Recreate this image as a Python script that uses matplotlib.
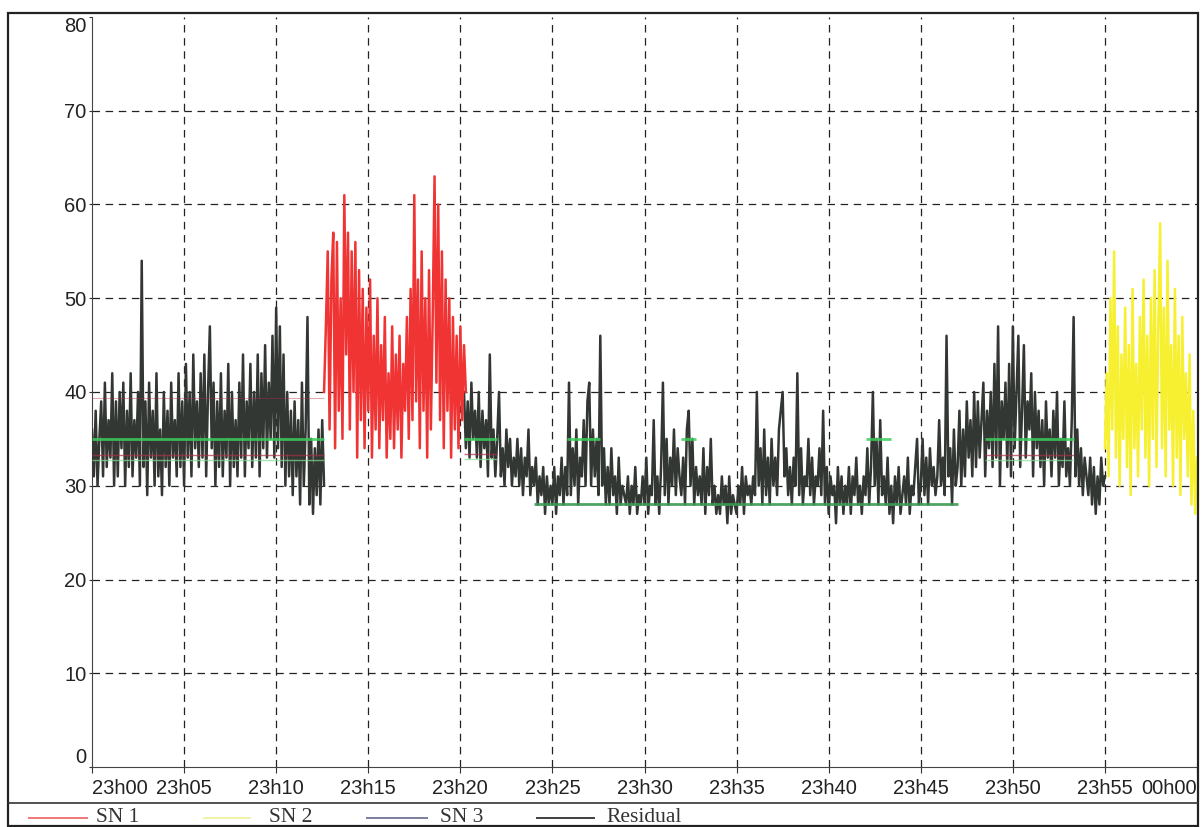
import numpy as np
import matplotlib.pyplot as plt
from matplotlib.lines import Line2D
from matplotlib.patches import Rectangle

# minutes after 23h00, sampled every 0.1 min
step = 0.1

# residual level, 23h00.0 -> 23h12.6
res_a_start = 0.0
res_a = [36, 31, 38, 30, 35, 39, 31, 41, 32, 37,
         33, 42, 30, 39, 31, 40, 34, 41, 30, 38,
         32, 42, 31, 37, 33, 40, 30, 54, 32, 39,
         29, 41, 33, 38, 30, 42, 31, 36, 29, 40,
         32, 38, 30, 41, 33, 37, 31, 42, 32, 39,
         30, 43, 33, 40, 31, 44, 34, 39, 32, 42,
         33, 44, 31, 40, 47, 34, 41, 30, 39, 32,
         42, 31, 38, 33, 43, 30, 40, 32, 37, 31,
         41, 33, 44, 31, 39, 34, 43, 32, 40, 33,
         44, 31, 42, 34, 45, 33, 41, 35, 46, 33,
         49, 34, 47, 32, 44, 30, 40, 31, 38, 29,
         39, 31, 37, 28, 41, 30, 36, 48, 28, 35,
         27, 34, 29, 36, 28, 37, 30]

# SN 1, 23h12.6 -> 23h20.3
sn1_start = 12.6
sn1 = [40, 47, 55, 36, 52, 57, 34, 56, 38, 50,
       35, 61, 44, 57, 36, 55, 40, 56, 33, 53,
       37, 51, 34, 49, 38, 52, 33, 46, 36, 50,
       34, 45, 37, 48, 33, 42, 35, 47, 34, 44,
       36, 46, 33, 43, 38, 48, 35, 51, 37, 61,
       39, 52, 34, 55, 38, 50, 33, 53, 36, 48,
       63, 41, 60, 37, 55, 34, 52, 38, 50, 33,
       48, 36, 46, 34, 47, 37, 45, 40]

# residual level, 23h20.2 -> 23h55.0
res_b_start = 20.2
res_b = [40, 34, 39, 33, 41, 35, 38, 33,
         40, 32, 38, 34, 37, 31, 44, 33, 36, 31,
         35, 40, 31, 34, 30, 36, 32, 35, 30, 33,
         31, 35, 30, 34, 29, 33, 31, 36, 29, 32,
         30, 33, 28, 31, 29, 32, 27, 31, 28, 30,
         28, 32, 27, 31, 29, 33, 28, 32, 29, 41,
         29, 34, 30, 36, 28, 33, 31, 37, 30, 39,
         41, 30, 36, 31, 35, 29, 46, 30, 34, 28,
         32, 28, 34, 29, 31, 27, 33, 28, 30, 29,
         28, 31, 27, 30, 28, 32, 27, 29, 28, 31,
         28, 33, 27, 30, 29, 37, 28, 31, 27, 32,
         41, 29, 35, 28, 33, 30, 36, 29, 34, 31,
         29, 33, 28, 36, 38, 30, 35, 28, 32, 29,
         31, 28, 34, 27, 32, 29, 35, 28, 30, 27,
         29, 27, 31, 28, 30, 26, 31, 27, 29, 28,
         27, 30, 28, 32, 27, 31, 29, 30, 28, 31,
         29, 40, 30, 34, 28, 36, 29, 33, 28, 35,
         30, 33, 29, 36, 38, 40, 31, 34, 29, 32,
         28, 33, 30, 42, 29, 34, 28, 31, 30, 35,
         29, 33, 28, 31, 30, 34, 29, 38, 28, 32,
         27, 31, 29, 30, 26, 32, 28, 31, 27, 30,
         28, 32, 27, 31, 29, 33, 28, 30, 27, 31,
         29, 34, 28, 32, 40, 30, 35, 28, 37, 29,
         31, 28, 33, 27, 30, 26, 31, 28, 32, 27,
         29, 31, 28, 33, 27, 30, 29, 32, 35, 28,
         30, 35, 29, 33, 28, 34, 30, 32, 29, 31,
         37, 30, 33, 29, 46, 31, 34, 28, 36, 30,
         32, 38, 30, 36, 31, 39, 33, 37, 31, 40,
         32, 39, 33, 37, 41, 31, 38, 34, 40, 32,
         43, 33, 47, 30, 39, 35, 41, 32, 43, 31,
         47, 34, 40, 46, 32, 38, 45, 33, 39, 36,
         42, 31, 40, 34, 38, 32, 37, 30, 39, 33,
         36, 31, 38, 33, 40, 30, 35, 32, 39, 31,
         34, 30, 37, 48, 31, 36, 30, 34, 29, 33,
         31, 29, 33, 28, 32, 27, 31, 28, 33, 30,
         31]

# SN 2, 23h55.0 -> 00h00.0
sn2_start = 55.0
sn2 = [34, 42, 31, 50, 36, 55, 33, 47, 30, 44,
       35, 49, 32, 45, 29, 51, 34, 43, 31, 48,
       36, 52, 33, 46, 30, 50, 35, 53, 32, 47,
       58, 34, 49, 31, 54, 36, 45, 30, 51, 33,
       46, 29, 48, 35, 42, 31, 44, 28, 38, 27,
       33]

# level markers (start min, end min, level)
green_levels = [(0.0, 12.6, 35), (20.2, 22.0, 35), (25.8, 27.6, 35),
                (32.0, 32.8, 35), (42.0, 43.4, 35), (48.5, 53.3, 35)]
base_levels = [(24.0, 47.0, 28)]
lower_bands = [(0.0, 12.6, 33.3), (20.2, 22.0, 33.4), (48.5, 53.3, 33.3)]
upper_bands = [(0.0, 12.6, 39.4)]

tick_min = list(range(0, 61, 5))
tick_txt = ['23h00', '23h05', '23h10', '23h15', '23h20', '23h25', '23h30',
            '23h35', '23h40', '23h45', '23h50', '23h55', '00h00']
legend_names = ['SN 1', 'SN 2', 'SN 3', 'Residual']
legend_cols = ['#f07878', '#f2f2a8', '#7c7c9c', '#404040']


def times(start, vals):
    return start + step * np.arange(len(vals))


W, H = 1202, 827
fig = plt.figure(figsize=(W / 100, H / 100), dpi=100)
ax = fig.add_axes([92 / W, 1 - 767 / H, (1197 - 92) / W, (767 - 17) / H])

lw_sig = 1.8
ax.plot(times(res_a_start, res_a), res_a, color='#333733', lw=lw_sig, zorder=3)
ax.plot(times(res_b_start, res_b), res_b, color='#333733', lw=lw_sig, zorder=3)
ax.plot(times(sn1_start, sn1), sn1, color='#f03434', lw=lw_sig, zorder=4)
ax.plot(times(sn2_start, sn2), sn2, color='#f6f030', lw=lw_sig, zorder=4)

for a, b, lev in green_levels:
    ax.hlines(lev, a, b, color='#3ccf5a', lw=2.0, alpha=0.85, zorder=5)
for a, b, lev in base_levels:
    ax.hlines(lev, a, b, color='#3c9a55', lw=2.0, alpha=0.9, zorder=3.5)
for a, b, lev in lower_bands:
    ax.hlines(lev, a, b, color='#a83048', lw=1.0, alpha=0.7, zorder=5)
    ax.hlines(lev - 0.6, a, b, color='#7fe08f', lw=1.0, alpha=0.7, zorder=5)
for a, b, lev in upper_bands:
    ax.hlines(lev, a, b, color='#a83048', lw=0.8, alpha=0.4, zorder=5)

ax.set_xlim(0, 60)
ax.set_ylim(0, 80)
ax.set_xticks(tick_min)
ax.set_xticklabels(tick_txt, fontsize=14.5, family='Liberation Sans', color='#222222')
ax.set_yticks(range(0, 81, 10))
ax.set_yticklabels([str(v) for v in range(0, 81, 10)], fontsize=14.5,
                   family='Liberation Sans', color='#222222')
xl = ax.get_xticklabels()
xl[0].set_ha('left')
xl[-1].set_ha('right')
yl = ax.get_yticklabels()
yl[0].set_va('bottom')
yl[-1].set_va('top')
ax.tick_params(axis='x', length=4, pad=5, color='#333333')
ax.tick_params(axis='y', length=2, pad=2, color='#333333')

ax.grid(True, color='#222222', linestyle=(0, (6, 4.5)), lw=0.9)
for g in (ax.xaxis.get_gridlines()[0], ax.xaxis.get_gridlines()[-1],
          ax.yaxis.get_gridlines()[0], ax.yaxis.get_gridlines()[-1]):
    g.set_visible(False)
ax.set_axisbelow(True)

for s in ('top', 'right'):
    ax.spines[s].set_visible(False)
ax.spines['left'].set_color('#444444')
ax.spines['bottom'].set_color('#444444')

# outer frame and legend strip
fig.add_artist(Rectangle((8 / W, 1 - 826 / H), (1198 - 8) / W, (826 - 13) / H,
                         transform=fig.transFigure, fill=False,
                         edgecolor='#222222', lw=1.6))
fig.add_artist(Line2D([8 / W, 1198 / W], [1 - 803 / H, 1 - 803 / H],
                      color='#333333', lw=1.2))

line_x = [(29, 87), (204, 250), (367, 427), (537, 594)]
text_x = [96, 269, 440, 606]
ly = 1 - 818 / H
for (a, b), tx, name, col in zip(line_x, text_x, legend_names, legend_cols):
    fig.add_artist(Line2D([a / W, b / W], [ly, ly], color=col, lw=1.4))
    fig.text(tx / W, ly, name, fontsize=15.5, family='Liberation Serif',
             color='#333333', va='center', ha='left')

fig.savefig('out.png', dpi=100)
